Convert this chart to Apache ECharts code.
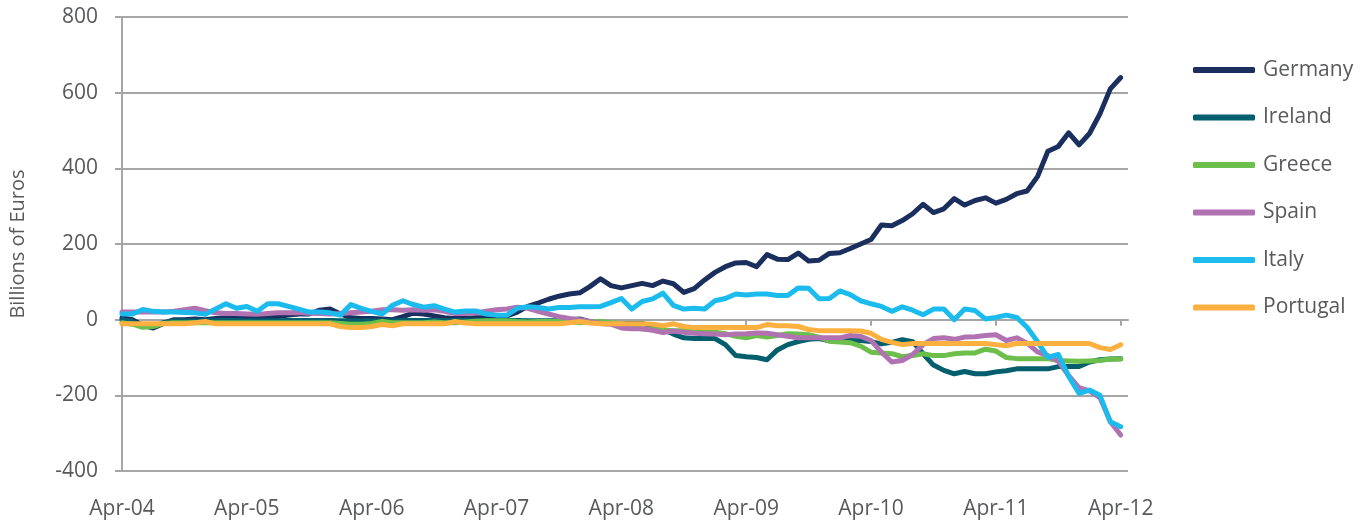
<!DOCTYPE html>
<html>
<head>
<meta charset="utf-8">
<script src="https://cdn.jsdelivr.net/npm/echarts@6/dist/echarts.min.js"></script>
<style>
  html, body { margin: 0; padding: 0; background: #fff; }
  #chart { width: 1369px; height: 527px; }
</style>
</head>
<body>
<div id="chart"></div>
<script>
// monthly, Apr-04 .. Apr-12 (97 points), billions of euros
var tickLabels = ['Apr-04', 'Apr-05', 'Apr-06', 'Apr-07', 'Apr-08', 'Apr-09', 'Apr-10', 'Apr-11', 'Apr-12'];
var seriesNames = ['Germany', 'Ireland', 'Greece', 'Spain', 'Italy', 'Portugal'];

var germany = [5, 0, -15, -22, -10, 0, 0, 2, 0, 3, 5, 8, 8, 8, 5, 8, 12, 15, 15, 25,
  28, 15, 5, 3, 3, 2, 0, 8, 17, 15, 10, 5, 3, 3, 5, 5, 5, 10, 20, 35,
  44, 54, 62, 68, 71, 88, 108, 90, 84, 90, 96, 90, 102, 95, 72, 82, 105, 125, 140, 150,
  151, 140, 172, 160, 159, 176, 155, 157, 175, 177, 188, 200, 212, 250, 248, 262, 280, 305, 283, 293,
  320, 303, 315, 322, 308, 318, 333, 340, 378, 445, 458, 494, 462, 492, 544, 610, 640];

var ireland = [0, -5, -18, -18, -8, -3, -3, -3, -3, -2, -2, -2, -3, -3, -3, -3, -2, -2, -2, -2,
  -2, -3, -3, -3, -3, -3, -3, -2, -2, -2, -2, -2, -2, -2, -2, -2, -2, -2, -2, -3,
  -3, -3, -2, 0, 2, -5, -10, -10, -10, -10, -10, -18, -26, -38, -48, -50, -50, -50, -66, -95,
  -98, -100, -106, -80, -66, -58, -52, -50, -56, -56, -55, -55, -58, -64, -60, -53, -58, -90, -120, -134,
  -143, -137, -143, -143, -138, -135, -130, -130, -130, -130, -124, -124, -124, -112, -106, -104, -103];

var greece = [-8, -12, -20, -18, -10, -8, -8, -8, -8, -8, -8, -8, -8, -8, -8, -8, -8, -8, -8, -8,
  -8, -10, -12, -12, -10, -5, -8, -8, -8, -8, -6, -8, -8, -6, -4, -3, -3, -3, -5, -6,
  -5, -5, -5, -5, -8, -6, -5, -8, -10, -18, -25, -26, -27, -29, -29, -29, -29, -33, -37, -44,
  -48, -42, -46, -42, -37, -38, -40, -46, -57, -59, -61, -70, -86, -88, -90, -98, -95, -90, -95, -95,
  -90, -88, -88, -78, -83, -100, -103, -103, -103, -103, -108, -109, -110, -109, -108, -104, -104];

var spain = [20, 20, 20, 20, 20, 22, 26, 30, 24, 18, 16, 16, 15, 14, 16, 18, 18, 19, 17, 16,
  15, 16, 18, 20, 22, 26, 26, 25, 26, 25, 26, 22, 16, 16, 18, 22, 26, 28, 33, 30,
  22, 15, 8, 3, 0, -5, -10, -12, -22, -24, -24, -28, -34, -30, -33, -36, -37, -38, -40, -38,
  -37, -35, -36, -40, -44, -48, -48, -48, -48, -48, -42, -44, -55, -86, -112, -108, -92, -66, -50, -48,
  -52, -46, -45, -42, -40, -55, -48, -62, -85, -95, -110, -148, -180, -188, -206, -270, -305];

var italy = [15, 15, 27, 22, 20, 20, 19, 18, 14, 28, 42, 30, 35, 22, 42, 42, 35, 28, 20, 20,
  18, 12, 40, 30, 22, 15, 38, 50, 40, 33, 37, 28, 20, 23, 23, 15, 12, 12, 30, 34,
  32, 28, 32, 32, 34, 34, 35, 45, 56, 28, 48, 55, 70, 38, 28, 30, 28, 50, 56, 68,
  65, 68, 68, 64, 64, 84, 83, 55, 56, 76, 66, 50, 42, 35, 22, 34, 25, 13, 28, 28,
  0, 28, 24, 2, 6, 12, 6, -20, -58, -100, -92, -150, -195, -186, -200, -270, -283];

var portugal = [-11, -11, -11, -11, -11, -11, -11, -8, -5, -11, -11, -11, -11, -11, -11, -11, -11, -11, -11, -11,
  -11, -18, -21, -21, -18, -13, -16, -11, -11, -11, -11, -11, -5, -9, -11, -11, -11, -11, -11, -11,
  -11, -11, -11, -8, -5, -9, -11, -11, -11, -11, -11, -12, -16, -11, -18, -21, -21, -21, -21, -21,
  -21, -21, -13, -16, -16, -18, -26, -29, -29, -29, -29, -30, -36, -52, -60, -66, -63, -63, -63, -63,
  -63, -63, -63, -63, -66, -69, -63, -63, -63, -63, -63, -63, -63, -63, -74, -79, -66];

var colors = ['#1b2f5e', '#035e6e', '#6cbf4a', '#b072b0', '#1bbbee', '#fbb040'];
var allData = [germany, ireland, greece, spain, italy, portugal];

var textColor = '#58595b';
var gridColor = '#a6a6a6';
var fontFamily = '"Open Sans", "Noto Sans", sans-serif';

var yearTicks = tickLabels.map(function (t, i) { return i * 12; });

var chart = echarts.init(document.getElementById('chart'));

var option = {
  animation: false,
  color: colors,
  textStyle: { fontFamily: fontFamily },
  grid: { left: 120, right: 241, top: 17, bottom: 56, containLabel: false },
  legend: {
    orient: 'vertical',
    left: 1188,
    top: 54,
    icon: 'roundRect',
    itemWidth: 62,
    itemHeight: 6,
    itemGap: 25.5,
    textStyle: { color: textColor, fontSize: 21, lineHeight: 22, padding: [0, 0, 0, 3], fontFamily: fontFamily },
    data: seriesNames
  },
  xAxis: [
    {
      type: 'value',
      min: 0,
      max: 96.7,
      interval: 12,
      axisLine: { show: false, onZero: false },
      axisTick: { show: false },
      splitLine: { show: false },
      axisLabel: {
        color: textColor,
        fontSize: 21,
        margin: 28,
        customValues: yearTicks,
        formatter: function (v) { return tickLabels[Math.round(v / 12)] || ''; }
      }
    },
    {
      type: 'value',
      min: 0,
      max: 96.7,
      interval: 12,
      axisLine: { show: true, onZero: true, lineStyle: { color: gridColor, width: 2 } },
      axisTick: { show: true, inside: true, length: 6, customValues: yearTicks, lineStyle: { color: gridColor, width: 2 } },
      axisLabel: { show: false },
      splitLine: { show: false }
    }
  ],
  yAxis: {
    type: 'value',
    min: -400,
    max: 800,
    interval: 200,
    name: 'Billions of Euros',
    nameLocation: 'middle',
    nameGap: 94,
    nameTextStyle: { color: textColor, fontSize: 20 },
    axisLine: { show: true, lineStyle: { color: gridColor, width: 2 } },
    axisTick: { show: true, length: 7, lineStyle: { color: gridColor, width: 2 } },
    axisLabel: { color: textColor, fontSize: 21, margin: 24 },
    splitLine: { show: true, lineStyle: { color: gridColor, width: 2 } }
  },
  series: seriesNames.map(function (name, k) {
    return {
      name: name,
      type: 'line',
      xAxisIndex: 0,
      showSymbol: false,
      symbol: 'none',
      lineStyle: { width: 5, color: colors[k], cap: 'round', join: 'round' },
      itemStyle: { color: colors[k] },
      data: allData[k].map(function (v, i) { return [i, v]; })
    };
  })
};

chart.setOption(option);
</script>
</body>
</html>
